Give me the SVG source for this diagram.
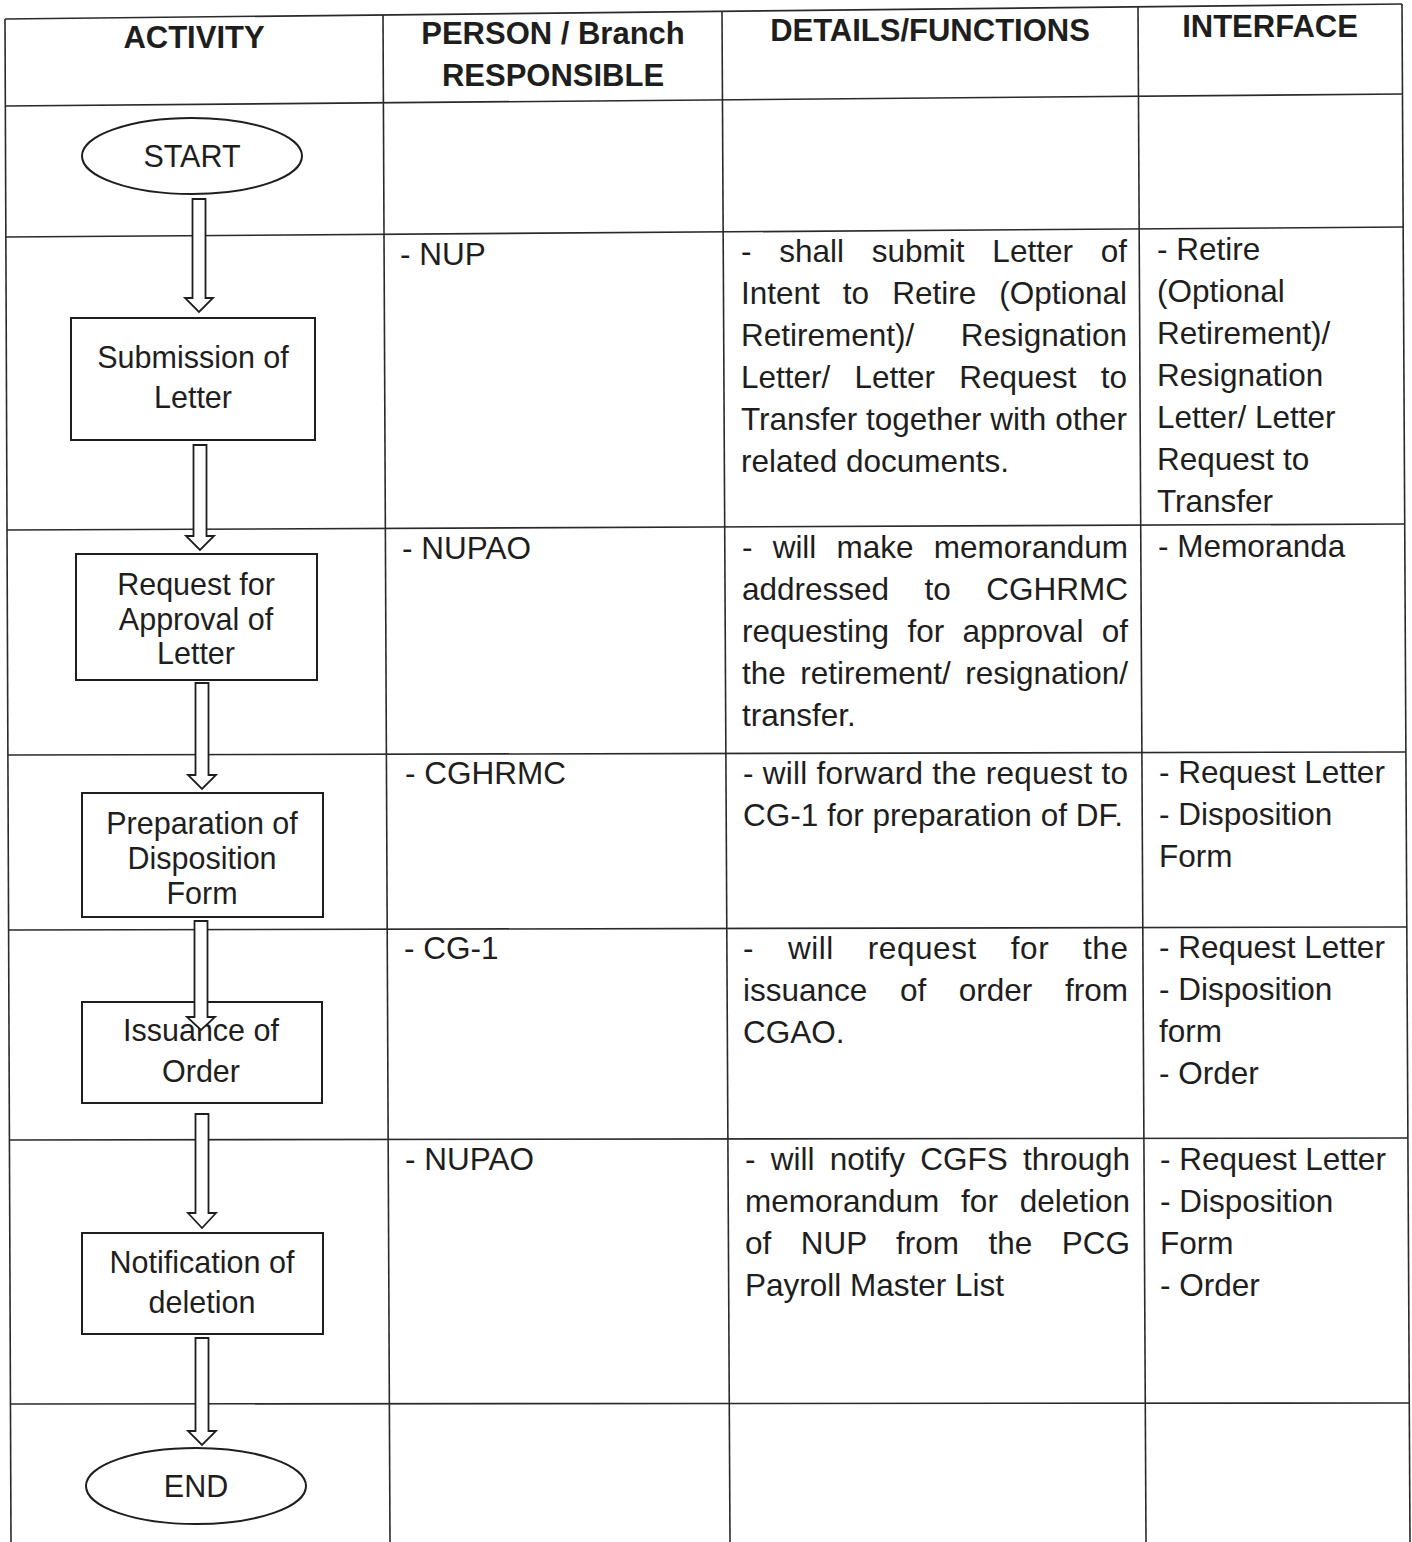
<svg xmlns="http://www.w3.org/2000/svg" width="1412" height="1542" viewBox="0 0 1412 1542">
<style>
.grid line{stroke:#2a2a2a;stroke-width:1.6}
.h{font-family:"Liberation Sans",Arial,sans-serif;font-weight:bold;font-size:31px;fill:#1e1e1e;text-anchor:middle}
.t{font-family:"Liberation Sans",Arial,sans-serif;font-size:31.5px;fill:#1e1e1e}
.b{font-family:"Liberation Sans",Arial,sans-serif;font-size:30.5px;fill:#1e1e1e;text-anchor:middle}
.box{fill:#fff;stroke:#1e1e1e;stroke-width:2}
.arr{fill:#fff;stroke:#1e1e1e;stroke-width:1.8;stroke-linejoin:miter}
</style>
<rect width="1412" height="1542" fill="#fff"/>
<g id="table" class="grid">
<line x1="5" y1="19" x2="1402" y2="4"/>
<line x1="5" y1="106" x2="1402" y2="94"/>
<line x1="5" y1="237" x2="1404" y2="227"/>
<line x1="7" y1="530" x2="1405" y2="524"/>
<line x1="8" y1="755" x2="1406" y2="752"/>
<line x1="9" y1="930" x2="1407" y2="927"/>
<line x1="10" y1="1140" x2="1408" y2="1138"/>
<line x1="11" y1="1404" x2="1410" y2="1403"/>
<line x1="5" y1="19" x2="11" y2="1542"/>
<line x1="383" y1="15" x2="390" y2="1542"/>
<line x1="722" y1="12" x2="730" y2="1542"/>
<line x1="1138" y1="7" x2="1146" y2="1542"/>
<line x1="1402" y1="4" x2="1410" y2="1542"/>
</g>
<g id="headers">
<text class="h" x="194" y="48">ACTIVITY</text>
<text class="h" x="553" y="44">PERSON / Branch</text>
<text class="h" x="553" y="86">RESPONSIBLE</text>
<text class="h" x="930" y="41">DETAILS/FUNCTIONS</text>
<text class="h" x="1270" y="37">INTERFACE</text>
</g>
<g id="start"><ellipse class="box" cx="192" cy="156" rx="110" ry="38"/><text class="b" x="192" y="167" font-size="29">START</text></g>
<g id="submission"><rect class="box" x="71" y="318" width="244" height="122"/><text class="b" x="193" y="368">Submission of</text><text class="b" x="193" y="408">Letter</text></g>
<g id="request"><rect class="box" x="76" y="554" width="241" height="126"/><text class="b" x="196" y="595">Request for</text><text class="b" x="196" y="630">Approval of</text><text class="b" x="196" y="664">Letter</text></g>
<g id="preparation"><rect class="box" x="82" y="793" width="241" height="124"/><text class="b" x="202" y="834">Preparation of</text><text class="b" x="202" y="869">Disposition</text><text class="b" x="202" y="904">Form</text></g>
<g id="issuance"><rect class="box" x="82" y="1002" width="240" height="101"/><text class="b" x="201" y="1041">Issuance of</text><text class="b" x="201" y="1082">Order</text></g>
<g id="notification"><rect class="box" x="82" y="1233" width="241" height="101"/><text class="b" x="202" y="1273">Notification of</text><text class="b" x="202" y="1313">deletion</text></g>
<g id="end"><ellipse class="box" cx="196" cy="1486" rx="110" ry="38"/><text class="b" x="196" y="1497" font-size="29">END</text></g>
<g id="connectors">
<polygon class="arr" points="192.5,199 205.5,199 205.5,298 213,298 199,312 185,298 192.5,298"/>
<polygon class="arr" points="193.5,445 206.5,445 206.5,536 214,536 200,550 186,536 193.5,536"/>
<polygon class="arr" points="195.5,683 208.5,683 208.5,775 216,775 202,789 188,775 195.5,775"/>
<polygon class="arr" points="194.5,921 207.5,921 207.5,1017 215,1017 201,1030 187,1017 194.5,1017"/>
<polygon class="arr" points="195.5,1114 208.5,1114 208.5,1213 216,1213 202,1228 188,1213 195.5,1213"/>
<polygon class="arr" points="195.5,1338 208.5,1338 208.5,1431 216,1431 202,1445 188,1431 195.5,1431"/>
</g>
<g id="row-submission">
<text class="t" x="400" y="265">- NUP</text>
<text class="t" x="741" y="262" word-spacing="19" textLength="386" lengthAdjust="spacing">- shall submit Letter of</text>
<text class="t" x="741" y="304" word-spacing="14.3" textLength="386" lengthAdjust="spacing">Intent to Retire (Optional</text>
<text class="t" x="741" y="346" word-spacing="37.6" textLength="386" lengthAdjust="spacing">Retirement)/ Resignation</text>
<text class="t" x="741" y="388" word-spacing="15.4" textLength="386" lengthAdjust="spacing">Letter/ Letter Request to</text>
<text class="t" x="741" y="430" textLength="386" lengthAdjust="spacing">Transfer together with other</text>
<text class="t" x="741" y="472">related documents.</text>
<text class="t" x="1157" y="260">- Retire</text>
<text class="t" x="1157" y="302">(Optional</text>
<text class="t" x="1157" y="344">Retirement)/</text>
<text class="t" x="1157" y="386">Resignation</text>
<text class="t" x="1157" y="428">Letter/ Letter</text>
<text class="t" x="1157" y="470">Request to</text>
<text class="t" x="1157" y="512">Transfer</text>
</g>
<g id="row-request">
<text class="t" x="402" y="559">- NUPAO</text>
<text class="t" x="742" y="558" word-spacing="11.4" textLength="386" lengthAdjust="spacing">- will make memorandum</text>
<text class="t" x="742" y="600" word-spacing="26.7" textLength="386" lengthAdjust="spacing">addressed to CGHRMC</text>
<text class="t" x="742" y="642" word-spacing="9.6" textLength="386" lengthAdjust="spacing">requesting for approval of</text>
<text class="t" x="742" y="684" word-spacing="5.7" textLength="386" lengthAdjust="spacing">the retirement/ resignation/</text>
<text class="t" x="742" y="726">transfer.</text>
<text class="t" x="1158" y="557">- Memoranda</text>
</g>
<g id="row-preparation">
<text class="t" x="405" y="784">- CGHRMC</text>
<text class="t" x="743" y="784" textLength="385" lengthAdjust="spacing">- will forward the request to</text>
<text class="t" x="743" y="826">CG-1 for preparation of DF.</text>
<text class="t" x="1159" y="783">- Request Letter</text>
<text class="t" x="1159" y="825">- Disposition</text>
<text class="t" x="1159" y="867">Form</text>
</g>
<g id="row-issuance">
<text class="t" x="404" y="959">- CG-1</text>
<text class="t" x="743" y="959" word-spacing="24.5" textLength="385" lengthAdjust="spacing">- will request for the</text>
<text class="t" x="743" y="1001" word-spacing="23.9" textLength="385" lengthAdjust="spacing">issuance of order from</text>
<text class="t" x="743" y="1043">CGAO.</text>
<text class="t" x="1159" y="958">- Request Letter</text>
<text class="t" x="1159" y="1000">- Disposition</text>
<text class="t" x="1159" y="1042">form</text>
<text class="t" x="1159" y="1084">- Order</text>
</g>
<g id="row-notification">
<text class="t" x="405" y="1170">- NUPAO</text>
<text class="t" x="745" y="1170" word-spacing="6.5" textLength="385" lengthAdjust="spacing">- will notify CGFS through</text>
<text class="t" x="745" y="1212" word-spacing="13" textLength="385" lengthAdjust="spacing">memorandum for deletion</text>
<text class="t" x="745" y="1254" word-spacing="20.5" textLength="385" lengthAdjust="spacing">of NUP from the PCG</text>
<text class="t" x="745" y="1296">Payroll Master List</text>
<text class="t" x="1160" y="1170">- Request Letter</text>
<text class="t" x="1160" y="1212">- Disposition</text>
<text class="t" x="1160" y="1254">Form</text>
<text class="t" x="1160" y="1296">- Order</text>
</g>
</svg>
